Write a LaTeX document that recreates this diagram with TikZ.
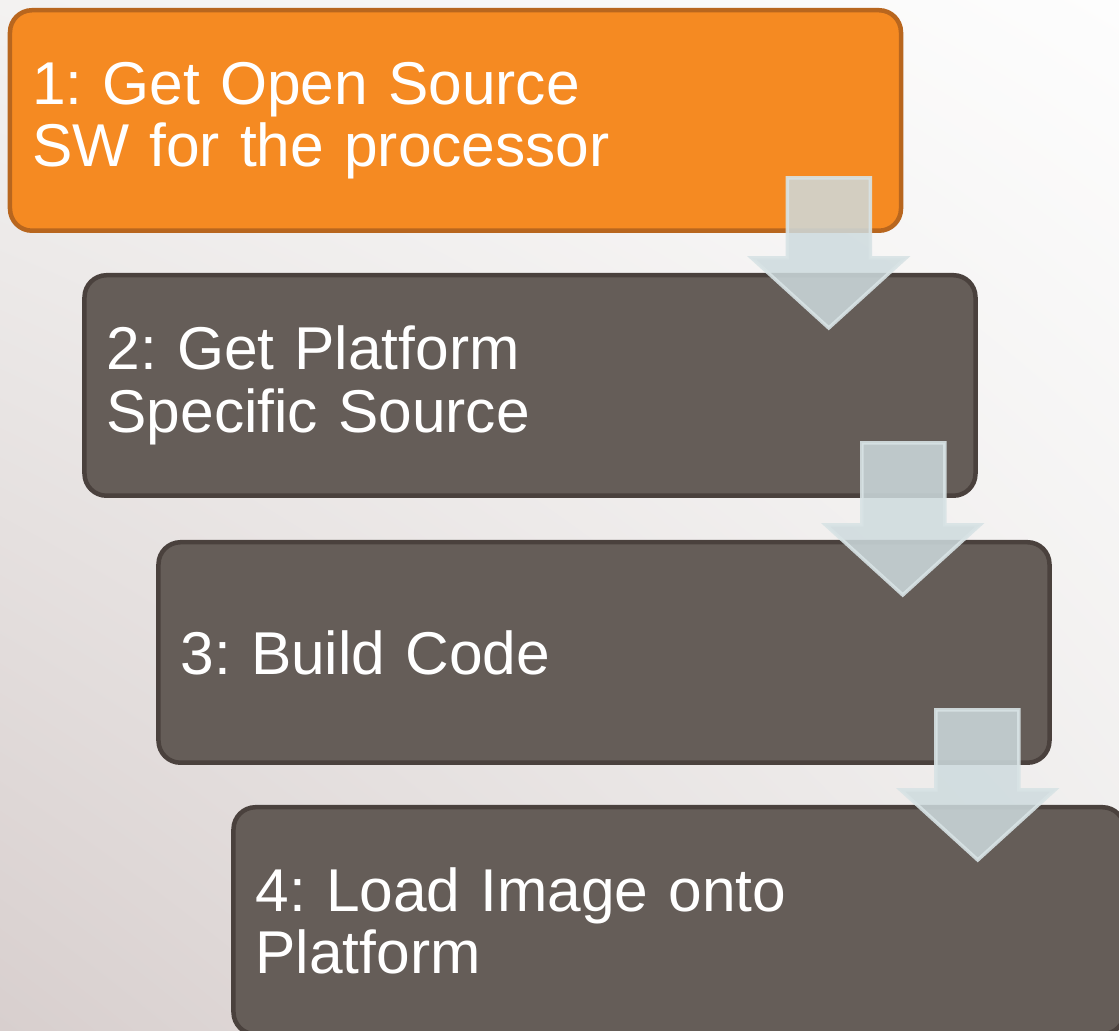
\documentclass[tikz,border=0pt]{standalone}
\usepackage{fontspec}
\setmainfont{Liberation Sans}
\usetikzlibrary{positioning,calc,shadings}
\frenchspacing

\definecolor{steporange}{RGB}{245,138,34}
\definecolor{steporangeline}{RGB}{184,102,30}
\definecolor{stepgray}{RGB}{101,93,88}
\definecolor{stepgrayline}{RGB}{74,65,61}
\definecolor{arrowfill}{RGB}{206,219,222}
\definecolor{arrowline}{RGB}{216,227,229}
\definecolor{bgtl}{RGB}{243,242,241}
\definecolor{bgtr}{RGB}{253,253,253}
\definecolor{bgbl}{RGB}{216,207,206}
\definecolor{bgbr}{RGB}{238,236,235}

\tikzset{
  stepbox/.style={rectangle, rounded corners=0.22cm, line width=0.045cm,
    minimum height=2.205cm, text width=8.47cm, inner xsep=0.22cm,
    align=left, text=white, fill=stepgray, draw=stepgrayline,
    font=\fontsize{17.2pt}{17.8pt}\selectfont},
  firstbox/.style={stepbox, fill=steporange, draw=steporangeline},
  flowarrow/.style={fill=arrowfill, fill opacity=0.85, draw=arrowline,
    draw opacity=0.9, line width=0.035cm, line join=miter},
}

% down arrow from one step box into the next
\newcommand{\steparrow}[2]{%
  \coordinate (#1-out) at ($(#1.south east)+(-0.745,0.55)$);
  \coordinate (#2-in) at ($(#2.north east)+(-1.49,-0.55)$);
  \draw[flowarrow] ($(#1-out)+(-0.415,0)$) |- ($(#2-in)+(-0.77,0.70)$)
    -- (#2-in) -- ++(0.77,0.70) -| ($(#1-out)+(0.415,0)$) -- cycle;
}

\begin{document}
\begin{tikzpicture}
  \useasboundingbox (0,0) rectangle (11.19,10.31);
  \shade[upper left=bgtl, upper right=bgtr, lower left=bgbl, lower right=bgbr]
    (0,0) rectangle (11.19,10.31);

  % the four steps
  \node[firstbox] (get) at (4.555,9.105) {1: Get Open Source\\SW for the processor};
  \node[stepbox, below=0.40cm of get, xshift=0.745cm] (platform) {2: Get Platform\\Specific Source};
  \node[stepbox, below=0.42cm of platform, xshift=0.74cm] (build) {3: Build Code};
  \node[stepbox, minimum height=2.27cm, below=0.40cm of build, xshift=0.75cm] (load) {4: Load Image onto\\Platform};

  \steparrow{get}{platform}
  \steparrow{platform}{build}
  \steparrow{build}{load}
\end{tikzpicture}
\end{document}
